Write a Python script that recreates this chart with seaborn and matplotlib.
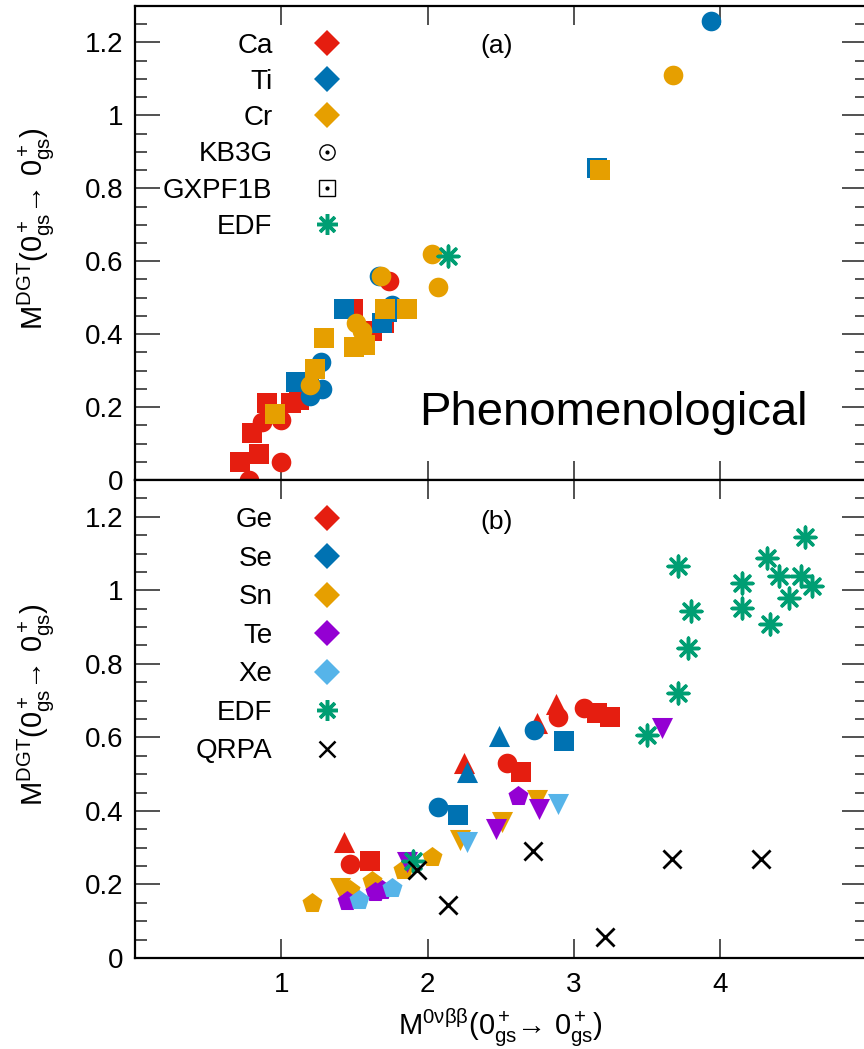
import matplotlib
matplotlib.use("Agg")
import matplotlib.pyplot as plt
import seaborn as sns
from matplotlib.lines import Line2D
from matplotlib.ticker import MultipleLocator, FuncFormatter

# colours (gnuplot-like palette)
RED = "#E51E10"
BLUE = "#0072B2"
ORANGE = "#E69F00"
PURPLE = "#9400D3"
SKY = "#56B4E9"
GREEN = "#009E73"

# ---- panel (a): phenomenological shell model ----
ca_kb3g_x = [0.78, 1.00, 0.87, 1.00, 1.74]
ca_kb3g_y = [0.00, 0.05, 0.16, 0.165, 0.545]
ca_gx_x = [0.72, 0.85, 0.80, 0.90, 1.07, 1.12, 1.49, 1.62, 1.70]
ca_gx_y = [0.05, 0.07, 0.13, 0.21, 0.21, 0.22, 0.47, 0.41, 0.43]
ti_kb3g_x = [1.20, 1.28, 1.27, 1.76, 1.67, 3.94]
ti_kb3g_y = [0.23, 0.25, 0.325, 0.48, 0.56, 1.26]
ti_gx_x = [1.10, 1.19, 1.43, 1.69, 1.72, 3.16]
ti_gx_y = [0.27, 0.27, 0.47, 0.43, 0.46, 0.855]
cr_kb3g_x = [1.20, 1.51, 1.55, 1.68, 2.03, 2.07, 3.68]
cr_kb3g_y = [0.26, 0.43, 0.41, 0.56, 0.62, 0.53, 1.11]
cr_gx_x = [0.96, 1.23, 1.29, 1.50, 1.57, 1.71, 1.86, 3.18]
cr_gx_y = [0.18, 0.305, 0.39, 0.365, 0.37, 0.47, 0.47, 0.85]
edf_a_x = [2.14]
edf_a_y = [0.615]

# ---- panel (b) ----
ge_tri_x = [1.43, 2.25, 2.75, 2.88]
ge_tri_y = [0.315, 0.53, 0.64, 0.69]
ge_circ_x = [1.47, 2.54, 2.89, 3.07]
ge_circ_y = [0.255, 0.53, 0.655, 0.68]
ge_sq_x = [1.61, 2.64, 3.16, 3.25]
ge_sq_y = [0.263, 0.505, 0.665, 0.655]
se_circ_x = [2.07, 2.73]
se_circ_y = [0.41, 0.62]
se_sq_x = [2.21, 2.93]
se_sq_y = [0.39, 0.59]
se_tri_x = [2.27, 2.49]
se_tri_y = [0.505, 0.605]
sn_pent_x = [1.21, 1.47, 1.62, 1.83, 2.03]
sn_pent_y = [0.15, 0.185, 0.21, 0.24, 0.275]
sn_tdn_x = [1.40, 2.22, 2.51, 2.75]
sn_tdn_y = [0.19, 0.32, 0.37, 0.43]
te_pent_x = [1.45, 1.64, 1.69, 2.62]
te_pent_y = [0.155, 0.18, 0.185, 0.44]
te_tdn_x = [1.86, 2.47, 2.76, 3.60]
te_tdn_y = [0.26, 0.35, 0.405, 0.626]
xe_pent_x = [1.53, 1.76]
xe_pent_y = [0.157, 0.19]
xe_tdn_x = [2.27, 2.89]
xe_tdn_y = [0.315, 0.42]
edf_b_x = [1.90, 3.50, 3.71, 3.78, 3.80, 3.71, 4.15, 4.15, 4.34, 4.32, 4.40, 4.47, 4.55, 4.63, 4.58]
edf_b_y = [0.265, 0.607, 0.72, 0.843, 0.943, 1.065, 0.951, 1.019, 0.908, 1.087, 1.038, 0.978, 1.04, 1.013, 1.146]
qrpa_x = [1.93, 2.14, 2.72, 3.21, 3.67, 4.28]
qrpa_y = [0.24, 0.145, 0.29, 0.057, 0.27, 0.27]

legend_a = ["Ca", "Ti", "Cr", "KB3G", "GXPF1B", "EDF"]
legend_b = ["Ge", "Se", "Sn", "Te", "Xe", "EDF", "QRPA"]

sns.set_style("ticks")
plt.rcParams["font.family"] = ["Liberation Sans", "DejaVu Sans"]
plt.rcParams["mathtext.fontset"] = "custom"
plt.rcParams["mathtext.rm"] = "Liberation Sans"
plt.rcParams["mathtext.it"] = "Liberation Sans:italic"
plt.rcParams["mathtext.sf"] = "Liberation Sans"
for key in ("text.color", "axes.labelcolor", "xtick.color", "ytick.color", "axes.edgecolor"):
    plt.rcParams[key] = "black"

fig = plt.figure(figsize=(8.64, 10.49), dpi=100)
L, R = 0.156, 1.003
ax_a = fig.add_axes([L, 0.5424, R - L, 0.9943 - 0.5424])
ax_b = fig.add_axes([L, 0.0868, R - L, 0.5424 - 0.0868])

ASTER = (8, 2, 0)


def dots(ax, x, y, color, marker, s=200):
    sns.scatterplot(x=x, y=y, ax=ax, color=color, marker=marker, s=s,
                    linewidth=0, legend=False)


def lines(ax, x, y, color, marker, s=220, lw=2.5):
    sns.scatterplot(x=x, y=y, ax=ax, color=color, marker=marker, s=s,
                    linewidth=lw, legend=False)


# panel (a)
dots(ax_a, ca_kb3g_x, ca_kb3g_y, RED, "o")
dots(ax_a, ca_gx_x, ca_gx_y, RED, "s")
dots(ax_a, ti_kb3g_x, ti_kb3g_y, BLUE, "o")
dots(ax_a, ti_gx_x, ti_gx_y, BLUE, "s")
dots(ax_a, cr_kb3g_x, cr_kb3g_y, ORANGE, "o")
dots(ax_a, cr_gx_x, cr_gx_y, ORANGE, "s")
lines(ax_a, edf_a_x, edf_a_y, GREEN, ASTER)

# panel (b)
dots(ax_b, ge_tri_x, ge_tri_y, RED, "^", 230)
dots(ax_b, ge_circ_x, ge_circ_y, RED, "o")
dots(ax_b, ge_sq_x, ge_sq_y, RED, "s")
dots(ax_b, se_circ_x, se_circ_y, BLUE, "o")
dots(ax_b, se_sq_x, se_sq_y, BLUE, "s")
dots(ax_b, se_tri_x, se_tri_y, BLUE, "^", 230)
dots(ax_b, sn_pent_x, sn_pent_y, ORANGE, "p", 230)
dots(ax_b, sn_tdn_x, sn_tdn_y, ORANGE, "v", 230)
dots(ax_b, te_pent_x, te_pent_y, PURPLE, "p", 230)
dots(ax_b, te_tdn_x, te_tdn_y, PURPLE, "v", 230)
dots(ax_b, xe_pent_x, xe_pent_y, SKY, "p", 230)
dots(ax_b, xe_tdn_x, xe_tdn_y, SKY, "v", 230)
lines(ax_b, edf_b_x, edf_b_y, GREEN, ASTER)
lines(ax_b, qrpa_x, qrpa_y, "black", "x", 170, 2.0)

fmt = FuncFormatter(lambda v, p: "%g" % round(v, 2))
ylab = "M$^{\\rm DGT}$(0$^+_{\\rm gs}$\u2192 0$^+_{\\rm gs}$)"
for ax in (ax_a, ax_b):
    ax.set_xlim(0, 5)
    ax.set_ylim(0, 1.3)
    ax.xaxis.set_major_locator(MultipleLocator(1))
    ax.yaxis.set_major_locator(MultipleLocator(0.2))
    ax.yaxis.set_minor_locator(MultipleLocator(0.05))
    ax.yaxis.set_major_formatter(fmt)
    ax.tick_params(which="both", direction="in", top=True, right=True,
                   labelsize=20, width=1.2, color="#333333")
    ax.tick_params(axis="y", which="major", length=18, pad=8)
    ax.tick_params(axis="y", which="minor", length=8.5)
    ax.tick_params(axis="x", which="major", length=14, pad=10)
    for sp in ax.spines.values():
        sp.set_linewidth(1.6)
    ax.set_ylabel(ylab, fontsize=21)
    ax.yaxis.set_label_coords(-0.108, 0.53)

ax_a.set_xticks([1, 2, 3, 4])
ax_a.set_xticklabels([])
ax_b.set_xticks([1, 2, 3, 4])
ax_b.set_xlabel("M$^{\\rm 0\\nu\\beta\\beta}$(0$^+_{\\rm gs}$\u2192 0$^+_{\\rm gs}$)",
                fontsize=21, labelpad=6)

ax_a.text(2.47, 1.19, "(a)", fontsize=19, ha="center", va="center")
ax_b.text(2.47, 1.185, "(b)", fontsize=19, ha="center", va="center")
ax_a.text(1.94, 0.185, "Phenomenological", fontsize=34, ha="left", va="center")


def dmd(c):
    return Line2D([], [], marker="D", color=c, linestyle="none", markersize=13,
                  markeredgewidth=0)


kb3g = (Line2D([], [], marker="o", color="k", mfc="none", linestyle="none",
               markersize=11, markeredgewidth=1.0),
        Line2D([], [], marker="o", color="k", linestyle="none", markersize=2))
gxpf = (Line2D([], [], marker="s", color="k", mfc="none", linestyle="none",
               markersize=11, markeredgewidth=1.0),
        Line2D([], [], marker="o", color="k", linestyle="none", markersize=2))
aster = Line2D([], [], marker=ASTER, color=GREEN, linestyle="none",
               markersize=15, markeredgewidth=2.5)
cross = Line2D([], [], marker="x", color="k", linestyle="none",
               markersize=12, markeredgewidth=1.8)

handles_a = [dmd(RED), dmd(BLUE), dmd(ORANGE), kb3g, gxpf, aster]
handles_b = [dmd(RED), dmd(BLUE), dmd(ORANGE), dmd(PURPLE), dmd(SKY), aster, cross]


def right_legend(ax, handles, labels, anchor, spacing):
    leg = ax.legend(handles, labels, loc="upper right", bbox_to_anchor=anchor,
                    frameon=False, markerfirst=False, fontsize=20,
                    handlelength=1.0, handletextpad=1.47, labelspacing=spacing,
                    borderpad=0, borderaxespad=0)
    for col in leg._legend_box.get_children()[1].get_children():
        col.align = "right"
    return leg


right_legend(ax_a, handles_a, legend_a, (0.282, 0.944), 0.37)
right_legend(ax_b, handles_b, legend_b, (0.282, 0.943), 0.45)

fig.savefig("out.png", dpi=100)
